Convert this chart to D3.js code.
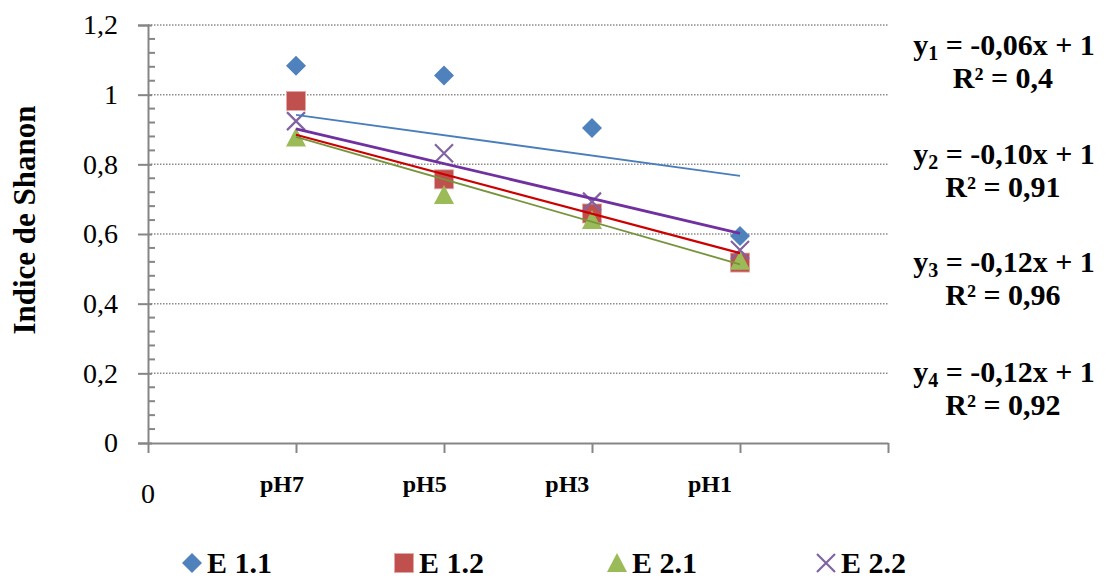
<!DOCTYPE html>
<html>
<head>
<meta charset="utf-8">
<script src="https://cdn.jsdelivr.net/npm/d3@7"></script>
<style>
  body { margin: 0; background: #fff; }
  svg text { font-family: "Liberation Serif", "Times New Roman", Times, "DejaVu Serif", serif; }
</style>
</head>
<body>
<svg id="chart" width="1110" height="581"></svg>
<script>
const categories = ['pH7', 'pH5', 'pH3', 'pH1']
const seriesNames = ['E 1.1', 'E 1.2', 'E 2.1', 'E 2.2']
const e11 = [1.083, 1.055, 0.904, 0.594]
const e12 = [0.982, 0.757, 0.659, 0.518]
const e21 = [0.877, 0.712, 0.640, 0.523]
const e22 = [0.924, 0.832, 0.693, 0.554]
// trendline values at pH7 and pH1
const trendStart = [0.942, 0.885, 0.879, 0.902]
const trendEnd = [0.767, 0.545, 0.513, 0.602]
const yTicks = [0, 0.2, 0.4, 0.6, 0.8, 1, 1.2]
const equations = [
  ['-0,06x + 1', '0,4', '1'],
  ['-0,10x + 1', '0,91', '2'],
  ['-0,12x + 1', '0,96', '3'],
  ['-0,12x + 1', '0,92', '4']
]

const markerFill = ['#4f81bd', '#c0504d', '#9bbb59', '#8064a2']
const lineColors = ['#4a7ebb', '#cc0000', '#77933c', '#7030a0']
const lineWidths = [1.8, 2.2, 1.8, 2.8]
const shapes = ['diamond', 'square', 'triangle', 'cross']
const allSeries = [e11, e12, e21, e22]

const svg = d3.select('#chart')
const x = d3.scaleLinear().domain([0, 5]).range([148, 888])
const y = d3.scaleLinear().domain([0, 1.2]).range([443, 25])
// category labels sit a little left of their ticks
const xLabel = d3.scaleLinear().domain([1, 4]).range([282, 710])
const axisColor = '#868686'

// gridlines
svg.append('g')
  .selectAll('line')
  .data(yTicks.filter((d) => d > 0))
  .enter()
  .append('line')
  .attr('x1', x(0))
  .attr('x2', x(5))
  .attr('y1', (d) => y(d))
  .attr('y2', (d) => y(d))
  .attr('stroke', '#8c8c8c')
  .attr('stroke-width', 1.5)
  .attr('stroke-dasharray', '1.5,1.5')

// y axis
const yAxis = svg.append('g').attr('transform', `translate(${x(0)},0)`)
yAxis.call(d3.axisLeft(y).tickValues(yTicks).tickSize(10).tickPadding(20)
  .tickFormat((d) => String(d).replace('.', ',')))
yAxis.attr('font-family', null)
yAxis.select('.domain').attr('stroke', axisColor).attr('stroke-width', 2)
yAxis.selectAll('.tick line').attr('stroke', axisColor).attr('stroke-width', 2).attr('x2', -10).attr('x1', 4)
yAxis.selectAll('.tick text')
  .attr('font-size', 28)
  .attr('fill', '#000')
// minor ticks
const minor = d3.range(0, 61).map((i) => i * 0.02).filter((_, i) => i % 2 === 0 && i % 10 !== 0)
yAxis.selectAll('.minor')
  .data(minor)
  .enter()
  .append('line')
  .attr('class', 'minor')
  .attr('x1', 0)
  .attr('x2', 7)
  .attr('y1', (d) => y(d))
  .attr('y2', (d) => y(d))
  .attr('stroke', axisColor)
  .attr('stroke-width', 2)

// x axis
const xAxis = svg.append('g').attr('transform', `translate(0,${y(0)})`)
xAxis.call(d3.axisBottom(x).tickValues([0, 1, 2, 3, 4, 5]).tickSize(10).tickSizeOuter(0)
  .tickFormat(() => ''))
xAxis.select('.domain').attr('stroke', axisColor).attr('stroke-width', 2)
xAxis.selectAll('.tick line').attr('stroke', axisColor).attr('stroke-width', 2)

svg.append('g')
  .selectAll('text')
  .data(categories)
  .enter()
  .append('text')
  .attr('x', (_, i) => xLabel(i + 1))
  .attr('y', 492)
  .attr('text-anchor', 'middle')
  .attr('font-weight', 'bold')
  .attr('font-size', 24)
  .text((d) => d)

svg.append('text')
  .attr('x', x(0))
  .attr('y', 503)
  .attr('text-anchor', 'middle')
  .attr('font-size', 28)
  .text('0')

svg.append('text')
  .attr('transform', 'translate(35,220) rotate(-90)')
  .attr('text-anchor', 'middle')
  .attr('font-weight', 'bold')
  .attr('font-size', 31)
  .text('Indice de Shanon')

function drawMarker(g, shape, color, cx, cy) {
  if (shape === 'diamond') {
    g.append('path')
      .attr('d', `M${cx},${cy - 10}L${cx + 10},${cy}L${cx},${cy + 10}L${cx - 10},${cy}Z`)
      .attr('fill', color)
  } else if (shape === 'square') {
    g.append('rect')
      .attr('x', cx - 9.5).attr('y', cy - 9.5)
      .attr('width', 19).attr('height', 19)
      .attr('fill', color)
      .attr('stroke', '#e3a9a7').attr('stroke-width', 0.8)
  } else if (shape === 'triangle') {
    g.append('path')
      .attr('d', `M${cx},${cy - 10}L${cx + 10},${cy + 9}L${cx - 10},${cy + 9}Z`)
      .attr('fill', color)
  } else {
    g.append('path')
      .attr('d', `M${cx - 9},${cy - 9}L${cx + 9},${cy + 9}M${cx + 9},${cy - 9}L${cx - 9},${cy + 9}`)
      .attr('stroke', color)
      .attr('stroke-width', 2.2)
      .attr('fill', 'none')
  }
}

// markers
const markers = svg.append('g')
allSeries.forEach((vals, s) => {
  vals.forEach((v, i) => drawMarker(markers, shapes[s], markerFill[s], x(i + 1), y(v)))
})

// trendlines
const line = d3.line().x((d) => x(d[0])).y((d) => y(d[1]))
svg.append('g')
  .selectAll('path')
  .data(seriesNames)
  .enter()
  .append('path')
  .attr('d', (_, s) => line([[1, trendStart[s]], [4, trendEnd[s]]]))
  .attr('stroke', (_, s) => lineColors[s])
  .attr('stroke-width', (_, s) => lineWidths[s])
  .attr('fill', 'none')

// equations
const eqY = [55, 164, 272, 382]
const eqs = svg.append('g').attr('font-weight', 'bold').attr('font-size', 30).attr('text-anchor', 'middle')
equations.forEach((e, i) => {
  const t = eqs.append('text').attr('x', 1004).attr('y', eqY[i])
  t.append('tspan').text('y')
  t.append('tspan').attr('font-size', 20).attr('dy', 5).text(e[2])
  t.append('tspan').attr('dy', -5).text(` = ${e[0]}`)
  eqs.append('text').attr('x', 1003).attr('y', eqY[i] + 33).text(`R² = ${e[1]}`)
})

// legend
const legendX = [192, 404, 617, 826]
const legend = svg.append('g')
seriesNames.forEach((name, s) => {
  drawMarker(legend, shapes[s], markerFill[s], legendX[s], 563)
  legend.append('text')
    .attr('x', legendX[s] + 15)
    .attr('y', 573)
    .attr('font-weight', 'bold')
    .attr('font-size', 30)
    .text(name)
})
</script>
</body>
</html>
